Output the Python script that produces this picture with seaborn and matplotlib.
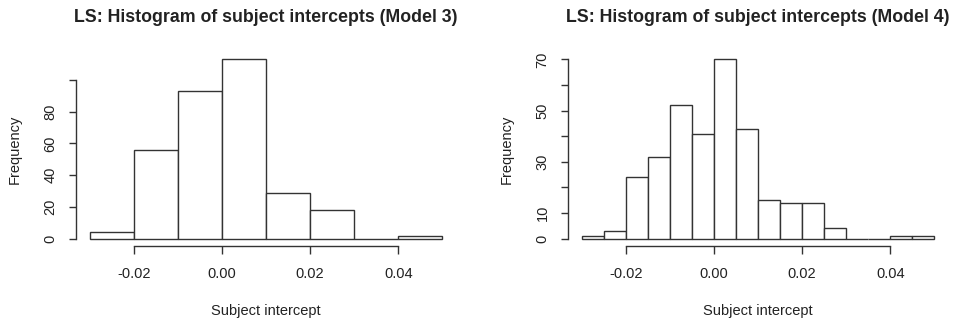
import matplotlib
matplotlib.use("Agg")
import matplotlib.pyplot as plt
import seaborn as sns
import numpy as np
import pandas as pd

# Model 3: bin edges (width 0.01) and counts
edges3 = [-0.03, -0.02, -0.01, 0.00, 0.01, 0.02, 0.03, 0.04, 0.05]
counts3 = [4, 56, 93, 113, 29, 18, 0, 2]

# Model 4: bin edges (width 0.005) and counts
edges4 = [-0.03, -0.025, -0.02, -0.015, -0.01, -0.005, 0.0, 0.005, 0.01,
          0.015, 0.02, 0.025, 0.03, 0.035, 0.04, 0.045, 0.05]
counts4 = [1, 3, 24, 32, 52, 41, 70, 43, 15, 14, 14, 4, 0, 0, 1, 1]

xticks = [-0.02, 0.00, 0.02, 0.04]
xticklabels = ["-0.02", "0.00", "0.02", "0.04"]
yticks3 = [0, 20, 40, 60, 80, 100]
yticklabels3 = ["0", "20", "40", "60", "80", ""]
yticks4 = [0, 10, 20, 30, 40, 50, 60, 70]
yticklabels4 = ["0", "10", "", "30", "", "50", "", "70"]

titles = ["LS: Histogram of subject intercepts (Model 3)",
          "LS: Histogram of subject intercepts (Model 4)"]

sns.set_theme(style="white")
plt.rcParams['font.family'] = ['Liberation Sans', 'DejaVu Sans']

fig = plt.figure(figsize=(9.57, 3.2), dpi=100)
ax1 = fig.add_axes([75.5 / 957, 1 - 245.9 / 320, 381 / 957, (245.9 - 52.2) / 320])
ax2 = fig.add_axes([567.5 / 957, 1 - 245.9 / 320, 381 / 957, (245.9 - 52.2) / 320])

ink = "#333333"

def draw(ax, edges, counts, yticks, yticklabels, title):
    centers = [(a + b) / 2 for a, b in zip(edges[:-1], edges[1:])]
    df = pd.DataFrame({"x": centers, "w": counts})
    sns.histplot(data=df, x="x", weights="w", bins=list(edges), ax=ax,
                 color="white", edgecolor=ink, linewidth=1.0, alpha=1)
    rng = edges[-1] - edges[0]
    ax.set_xlim(edges[0] - 0.04 * rng, edges[-1] + 0.04 * rng)
    ymax = max(counts)
    ax.set_ylim(-0.04 * ymax, ymax * 1.04)
    for s in ["top", "right"]:
        ax.spines[s].set_visible(False)
    for s in ["left", "bottom"]:
        ax.spines[s].set_color(ink)
        ax.spines[s].set_linewidth(1.0)
    ax.spines["bottom"].set_bounds(xticks[0], xticks[-1])
    ax.spines["left"].set_bounds(yticks[0], yticks[-1])
    ax.set_xticks(xticks)
    ax.set_xticklabels(xticklabels)
    ax.set_yticks(yticks)
    ax.set_yticklabels(yticklabels, rotation=90, va="center")
    ax.tick_params(axis="both", direction="out", length=5.4, width=1.0,
                   color=ink, labelsize=10.5, labelcolor="#222222", pad=9.5,
                   bottom=True, left=True)
    ax.tick_params(axis="y", pad=7.5)
    ax.set_xlabel("Subject intercept", fontsize=10.5, color="#222222", labelpad=17)
    ax.set_ylabel("Frequency", fontsize=10.5, color="#222222", labelpad=16)
    ax.set_title(title, fontsize=12.8, fontweight="bold", color="#222222", pad=21.5)
    ax.set_facecolor("white")

draw(ax1, edges3, counts3, yticks3, yticklabels3, titles[0])
draw(ax2, edges4, counts4, yticks4, yticklabels4, titles[1])

fig.savefig("out.png", dpi=100, facecolor="white")
